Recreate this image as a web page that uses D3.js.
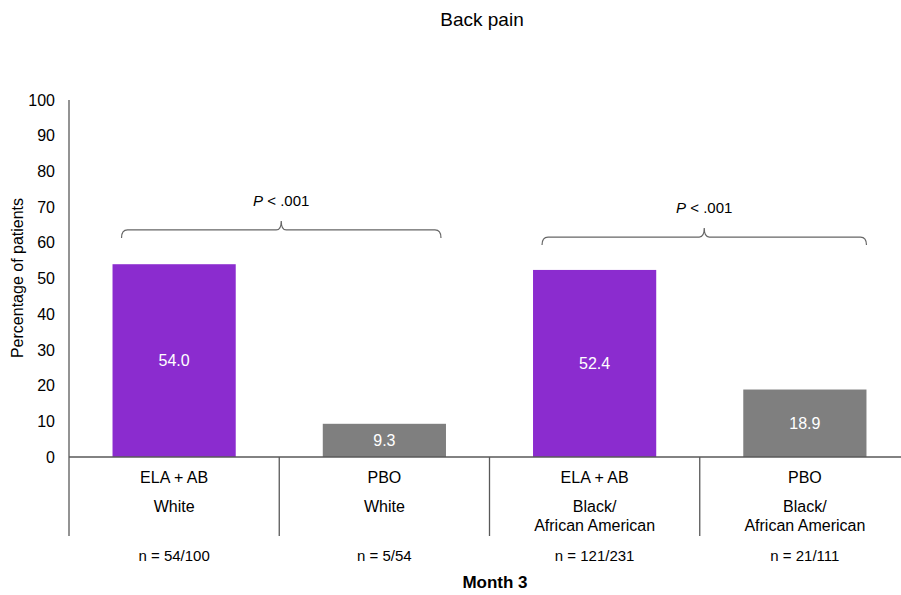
<!DOCTYPE html>
<html><head><meta charset="utf-8">
<script src="https://cdn.jsdelivr.net/npm/d3@7"></script>
<style>body{margin:0;background:#fff;font-family:"Liberation Sans",Arial,sans-serif;}</style>
</head><body><div id="chart"></div>
<script>
const treatments = ["ELA + AB", "PBO", "ELA + AB", "PBO"];
const groups = [["White"], ["White"], ["Black/", "African American"], ["Black/", "African American"]];
const nLabels = ["n = 54/100", "n = 5/54", "n = 121/231", "n = 21/111"];
const values = [54.0, 9.3, 52.4, 18.9];
const barColors = ["#8b2ccf", "#7f7f7f", "#8b2ccf", "#7f7f7f"];
const yTicks = [0, 10, 20, 30, 40, 50, 60, 70, 80, 90, 100];
const brackets = [{from: 0, to: 1, level: 63.6, label: ".001"}, {from: 2, to: 3, level: 61.6, label: ".001"}];

const W = 901, H = 595;
const svg = d3.select("#chart").append("svg").attr("width", W).attr("height", H);
const x = d3.scaleBand().domain(d3.range(values.length)).range([69, 910]).padding(0);
const y = d3.scaleLinear().domain([0, 100]).range([457, 100]);
const axisColor = "#595959";
const barW = x.bandwidth() * 0.586;

svg.append("text").attr("x", 482).attr("y", 26).attr("text-anchor", "middle")
  .attr("font-size", 19).attr("fill", "#000").text("Back pain");

// y axis labels
svg.selectAll(".yt").data(yTicks).enter().append("text")
  .attr("x", 55).attr("y", d => y(d)).attr("dy", "0.35em").attr("text-anchor", "end")
  .attr("font-size", 16).attr("fill", "#000").text(d => d);
svg.append("text").attr("transform", "translate(23,278) rotate(-90)").attr("text-anchor", "middle")
  .attr("font-size", 16).attr("fill", "#000").text("Percentage of patients");

// bars
svg.selectAll(".bar").data(values).enter().append("rect")
  .attr("x", (d, i) => x(i) + (x.bandwidth() - barW) / 2).attr("width", barW)
  .attr("y", d => y(d)).attr("height", d => y(0) - y(d)).attr("fill", (d, i) => barColors[i]);
svg.selectAll(".bl").data(values).enter().append("text")
  .attr("x", (d, i) => x(i) + x.bandwidth() / 2).attr("y", d => (y(d) + y(0)) / 2).attr("dy", "0.35em")
  .attr("text-anchor", "middle").attr("font-size", 16).attr("fill", "#fff").text(d => d.toFixed(1));

// axes lines
svg.append("line").attr("x1", 69).attr("x2", 69).attr("y1", y(100)).attr("y2", 536).attr("stroke", axisColor).attr("stroke-width", 1.3);
svg.append("line").attr("x1", 69).attr("x2", 910).attr("y1", y(0)).attr("y2", y(0)).attr("stroke", axisColor).attr("stroke-width", 1.3);
svg.selectAll(".sep").data(d3.range(1, values.length)).enter().append("line")
  .attr("x1", d => x(d)).attr("x2", d => x(d)).attr("y1", y(0)).attr("y2", 536)
  .attr("stroke", axisColor).attr("stroke-width", 1.3);

// category labels
const cg = svg.selectAll(".cat").data(d3.range(values.length)).enter().append("g");
cg.append("text").attr("x", i => x(i) + x.bandwidth() / 2).attr("y", 483).attr("text-anchor", "middle")
  .attr("font-size", 16).attr("fill", "#000").text(i => treatments[i]);
cg.each(function(i) {
  const g = d3.select(this);
  groups[i].forEach((t, k) => {
    g.append("text").attr("x", x(i) + x.bandwidth() / 2).attr("y", 512 + k * 19).attr("text-anchor", "middle")
      .attr("font-size", 16).attr("fill", "#000").text(t);
  });
});
cg.append("text").attr("x", i => x(i) + x.bandwidth() / 2).attr("y", 561).attr("text-anchor", "middle")
  .attr("font-size", 15).attr("fill", "#000").text(i => nLabels[i]);
svg.append("text").attr("x", 495).attr("y", 588).attr("text-anchor", "middle")
  .attr("font-size", 17).attr("font-weight", "bold").attr("fill", "#000").text("Month 3");

// brackets
brackets.forEach((b, bi) => {
  const x1 = x(b.from) + (x.bandwidth() - barW) / 2 + 9;
  const x2 = x(b.to) + (x.bandwidth() + barW) / 2 - (bi === 0 ? 5 : 0);
  const xc = (x1 + x2) / 2;
  const yy = y(b.level);
  const p = `M${x1},${yy + 8} Q${x1},${yy} ${x1 + 6},${yy} L${xc - 5},${yy} Q${xc},${yy} ${xc},${yy - 9} Q${xc},${yy} ${xc + 5},${yy} L${x2 - 6},${yy} Q${x2},${yy} ${x2},${yy + 8}`;
  svg.append("path").attr("d", p).attr("fill", "none").attr("stroke", "#666").attr("stroke-width", 1.2);
  const t = svg.append("text").attr("x", xc).attr("y", yy - 24).attr("text-anchor", "middle")
    .attr("font-size", 15).attr("fill", "#000");
  t.append("tspan").attr("font-style", "italic").text("P");
  t.append("tspan").text(" < " + b.label);
});
</script></body></html>
